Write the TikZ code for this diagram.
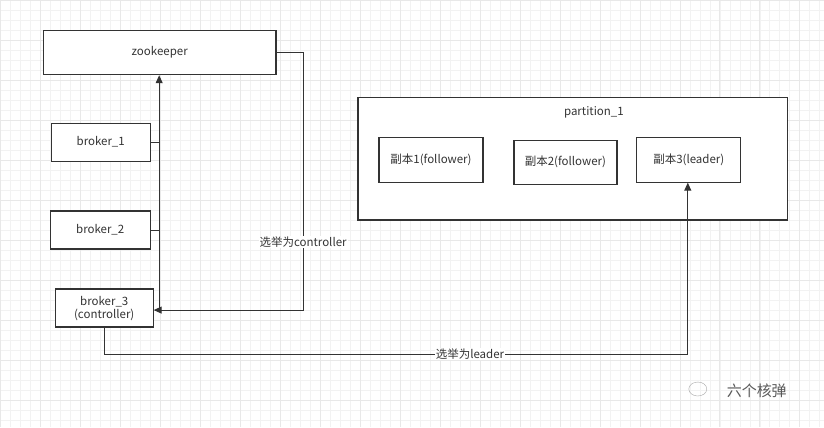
\documentclass[tikz,border=0pt]{standalone}
\usepackage{fontspec}
\setmainfont{Noto Sans CJK SC}
\usetikzlibrary{arrows.meta,shapes.geometric}
\begin{document}
\begin{tikzpicture}[x=1pt,y=-1pt,
  box/.style={draw=black!80,line width=1.3pt,fill=white,inner sep=0pt,font=\fontsize{11.5}{13}\selectfont,text=black!80,align=center},
  conn/.style={draw=black!80,line width=1pt},
  lbl/.style={fill=white,inner sep=1pt,font=\fontsize{11.5}{13}\selectfont,text=black!80}]
\fill[white] (0,0) rectangle (824,427);
\draw[black!5,line width=0.5pt] (0,0) grid[step=10pt] (824,427);
\draw[black!9,line width=0.6pt] (0,0) grid[step=40pt] (824,427);
\useasboundingbox (0,0) rectangle (824,427);
\node[box,minimum width=233pt,minimum height=44pt] (zk) at (159.5,52) {zookeeper};
\node[box,minimum width=99pt,minimum height=38pt] (b1) at (100.5,142) {broker\_1};
\node[box,minimum width=100pt,minimum height=38pt] (b2) at (100,230) {broker\_2};
\node[box,minimum width=98pt,minimum height=38pt] (b3) at (104,308) {broker\_3\\(controller)};
\node[box,minimum width=430pt,minimum height=123pt] (p) at (573,158.5) {};
\node[font=\fontsize{11.5}{13}\selectfont,text=black!80] (pl) at (594,112) {partition\_1};
\node[box,minimum width=104pt,minimum height=45pt] (r1) at (431,159.5) {副本1(follower)};
\node[box,minimum width=103pt,minimum height=44pt] (r2) at (565.5,162) {副本2(follower)};
\node[box,minimum width=104pt,minimum height=45pt] (r3) at (689,159.5) {副本3(leader)};
\coordinate (j3) at (159,310);
\coordinate (zkb) at (159,75);
\coordinate (b3e) at (153.5,310);
\coordinate (r3b) at (688,182.5);
\draw[conn,-{Triangle[length=8pt,width=7pt]}] (j3) -- (zkb);
\draw[conn] (b1.east) -- (159,142);
\draw[conn] (b2.east) -- (159,230);
\draw[conn,-{Triangle[length=8pt,width=7pt]}] (zk.east) -- (303,52) -- (303,310) -- (b3e);
\node[lbl] (l1) at (303,242) {选举为controller};
\draw[conn,-{Triangle[length=8pt,width=7pt]}] (b3.south) -- (104,354) -- (688,354) -- (r3b);
\node[lbl] (l2) at (470,354) {选举为leader};
\node[text=black!65,font=\fontsize{15}{16}\selectfont] (wm) at (757,391) {六个核弹};
\node[draw=black!35,ellipse,minimum width=18pt,minimum height=14pt,inner sep=0pt] (wi) at (698,389) {};
\end{tikzpicture}
\end{document}
